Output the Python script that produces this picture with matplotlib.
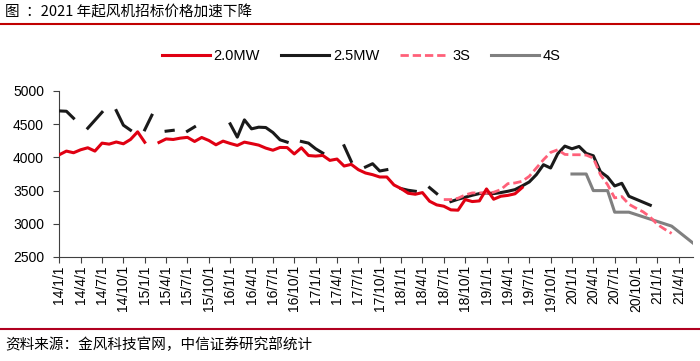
import numpy as np
import matplotlib
matplotlib.use("Agg")
import matplotlib.pyplot as plt
from matplotlib.lines import Line2D

plt.rcParams['font.family'] = ['Liberation Sans', 'Noto Sans CJK SC', 'DejaVu Sans']

n = None
# monthly categories 2014/1 .. 2021/6  (index 0..89)
N_MONTHS = 90
tick_pos = list(range(0, 90, 3))
tick_labels = ["14/1/1", "14/4/1", "14/7/1", "14/10/1", "15/1/1", "15/4/1", "15/7/1", "15/10/1",
               "16/1/1", "16/4/1", "16/7/1", "16/10/1", "17/1/1", "17/4/1", "17/7/1", "17/10/1",
               "18/1/1", "18/4/1", "18/7/1", "18/10/1", "19/1/1", "19/4/1", "19/7/1", "19/10/1",
               "20/1/1", "20/4/1", "20/7/1", "20/10/1", "21/1/1", "21/4/1"]

# 2.0MW, starting at month 0
mw20 = [4040, 4095, 4070, 4115, 4145, 4095, 4215, 4200, 4232, 4205, 4270, 4385, 4228, n,
        4225, 4278, 4270, 4290, 4302, 4240, 4300, 4255, 4190, 4245, 4210, 4180, 4230, 4208,
        4185, 4140, 4108, 4150, 4148, 4052, 4145, 4028, 4020, 4030, 3955, 3975, 3870, 3895,
        3815, 3765, 3740, 3705, 3705, 3585, 3530, 3460, 3445, 3470, 3340, 3285, 3265, 3210,
        3205, 3365, 3335, 3345, 3525, 3370, 3415, 3428, 3452, 3545]
mw20_start = 0

# 2.5MW, starting at month 0
mw25 = [4700, 4695, 4590, n, 4440, 4560, 4680, n, 4705, 4485, 4410, n, 4415, 4635, n,
        4395, 4408, n, 4395, 4460, n, n, n, n, 4505, 4305, 4565, 4430, 4455, 4450, 4375,
        4265, 4230, n, 4240, 4215, 4130, 4065, n, n, 4175, 3940, n, 3855, 3905, 3795, 3815,
        n, 3530, 3505, 3490, n, 3545, 3455, n, 3335, 3370, 3400, 3430, 3455, 3465, 3455,
        3470, 3490, 3515, 3570, 3630, 3740, 3890, 3840, 4055, 4170, 4130, 4165, 4060, 4025,
        3785, 3705, 3570, 3610, 3415, 3370, 3325, 3280]
mw25_start = 0

# 3S, starting at month 54
s3 = [3365, 3365, 3385, 3435, 3465, 3465, 3465, 3475, 3515, 3605, 3615, 3640, 3715, 3840,
      3965, 4075, 4115, 4045, 4040, 4040, 4035, 3990, 3740, 3590, 3390, 3410, 3295, 3235,
      3180, 3100, 2990, 2920, 2855]
s3_start = 54

# 4S, starting at month 72
s4 = [3750, 3750, 3750, 3500, 3500, 3500, 3175, 3175, 3175, 3140, 3105, 3070, 3035, 3000,
      2965, 2880, 2795, 2710]
s4_start = 72


def full(vals, start):
    arr = np.full(N_MONTHS, np.nan)
    v = np.array([np.nan if x is None else x for x in vals], dtype=float)
    arr[start:start + len(v)] = v
    return arr


x = np.arange(N_MONTHS)

fig = plt.figure(figsize=(7, 3.61), dpi=100)
ax = fig.add_axes([59.3 / 700, 1 - 257 / 361, (693 - 59.3) / 700, (257 - 91) / 361])

l4, = ax.plot(x, full(s4, s4_start), color='#808080', lw=2.2, zorder=2, label='4S')
l25, = ax.plot(x, full(mw25, mw25_start), color='#1a1a1a', lw=2.2, zorder=3, label='2.5MW')
l3, = ax.plot(x, full(s3, s3_start), color='#FF6079', lw=2.0, dashes=(3, 1.4), zorder=4, label='3S')
l20, = ax.plot(x, full(mw20, mw20_start), color='#E00012', lw=2.2, zorder=5, label='2.0MW')

ax.set_xlim(0, 89)
ax.set_ylim(2500, 5000)
ax.set_yticks([2500, 3000, 3500, 4000, 4500, 5000])
ax.set_xticks(tick_pos)
ax.set_xticklabels(tick_labels, rotation=90, ha='center', va='top')

for s in ['top', 'right']:
    ax.spines[s].set_visible(False)
for s in ['left', 'bottom']:
    ax.spines[s].set_color('#404040')
    ax.spines[s].set_linewidth(0.8)
ax.tick_params(axis='both', direction='out', length=4, width=0.8, color='#404040',
               labelsize=10, labelcolor='#000000')
ax.tick_params(axis='x', pad=2)
ax.tick_params(axis='y', pad=7)

fig.legend([l20, l25, l3, l4], ['2.0MW', '2.5MW', '3S', '4S'], loc='center',
           bbox_to_anchor=(0.516, 1 - 56 / 361), ncol=4, frameon=False, fontsize=10.5,
           handlelength=3.3, handletextpad=0.25, columnspacing=1.45)

cjk = ['Noto Sans CJK SC', 'DejaVu Sans']
fig.text(5 / 700, 1 - 12.5 / 361, '图  ：2021 年起风机招标价格加速下降', fontsize=10.5,
         family=cjk, ha='left', va='center')
fig.text(5 / 700, 1 - 345 / 361, '资料来源：金风科技官网，中信证券研究部统计', fontsize=10.5,
         family=cjk, ha='left', va='center')

fig.add_artist(Line2D([0, 1], [1 - 24 / 361] * 2, color='#C00000', lw=1.5,
                      transform=fig.transFigure))
fig.add_artist(Line2D([0, 1], [1 - 329 / 361] * 2, color='#B00020', lw=1.5,
                      transform=fig.transFigure))

fig.savefig('out.png', dpi=100)
